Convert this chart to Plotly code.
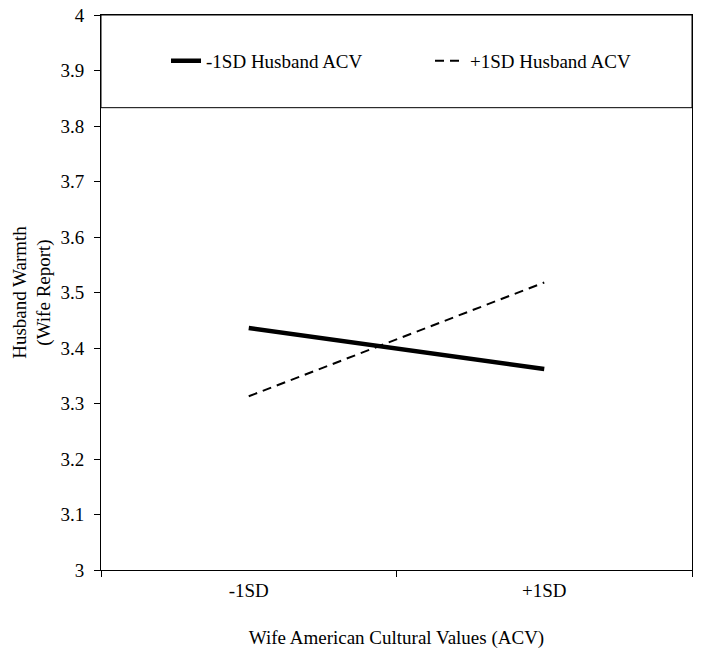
import plotly.graph_objects as go

categories = ["-1SD", "+1SD"]
low_husband_acv = [3.436, 3.362]
high_husband_acv = [3.313, 3.518]
series_names = ["-1SD Husband ACV", "+1SD Husband ACV"]
y_ticks = [3, 3.1, 3.2, 3.3, 3.4, 3.5, 3.6, 3.7, 3.8, 3.9, 4]
y_tick_labels = ["3", "3.1", "3.2", "3.3", "3.4", "3.5", "3.6", "3.7", "3.8", "3.9", "4"]

FONT = "Liberation Serif, Times New Roman, serif"
FS = 19

fig = go.Figure()
fig.add_trace(go.Scatter(x=categories, y=low_husband_acv, mode="lines",
                         name=series_names[0],
                         line=dict(color="black", width=4.5)))
fig.add_trace(go.Scatter(x=categories, y=high_husband_acv, mode="lines",
                         name=series_names[1],
                         line=dict(color="black", width=2, dash="9px,6px")))

# legend frame spanning the top of the plot area
fig.add_shape(type="rect", xref="paper", yref="y", x0=0, x1=1, y0=3.833, y1=4,
              line=dict(color="black", width=1), fillcolor="white", layer="below")

fig.update_layout(
    width=701, height=652,
    margin=dict(l=101, r=7, t=15, b=82),
    paper_bgcolor="white", plot_bgcolor="white",
    font=dict(family=FONT, size=FS, color="black"),
    showlegend=True,
    legend=dict(orientation="h", x=0.11, xanchor="left", y=0.9174, yanchor="middle",
                bgcolor="rgba(0,0,0,0)", borderwidth=0,
                font=dict(family=FONT, size=FS, color="black"),
                entrywidth=219, entrywidthmode="pixels"),
    xaxis=dict(type="category", range=[-0.5, 1.5], showgrid=False, automargin=False,
               showline=True, linecolor="black", linewidth=1, mirror=True,
               ticks="outside", tickson="boundaries", ticklen=6, tickcolor="black",
               ticklabelstandoff=3,
               tickfont=dict(family=FONT, size=FS, color="black"),
               title=dict(text="Wife American Cultural Values (ACV)", standoff=30,
                          font=dict(family=FONT, size=FS, color="black"))),
    yaxis=dict(range=[3, 4], tickvals=y_ticks, ticktext=y_tick_labels, showgrid=False,
               zeroline=False, automargin=False,
               showline=True, linecolor="black", linewidth=1, mirror=True,
               ticks="outside", ticklen=6, tickcolor="black",
               ticklabelstandoff=6,
               tickfont=dict(family=FONT, size=FS, color="black"),
               title=dict(text="Husband Warmth<br>(Wife Report)", standoff=4,
                          font=dict(family=FONT, size=FS, color="black"))),
)

fig.write_html("out.html", config={"displayModeBar": False},
               post_script="document.body.style.margin='0';")
